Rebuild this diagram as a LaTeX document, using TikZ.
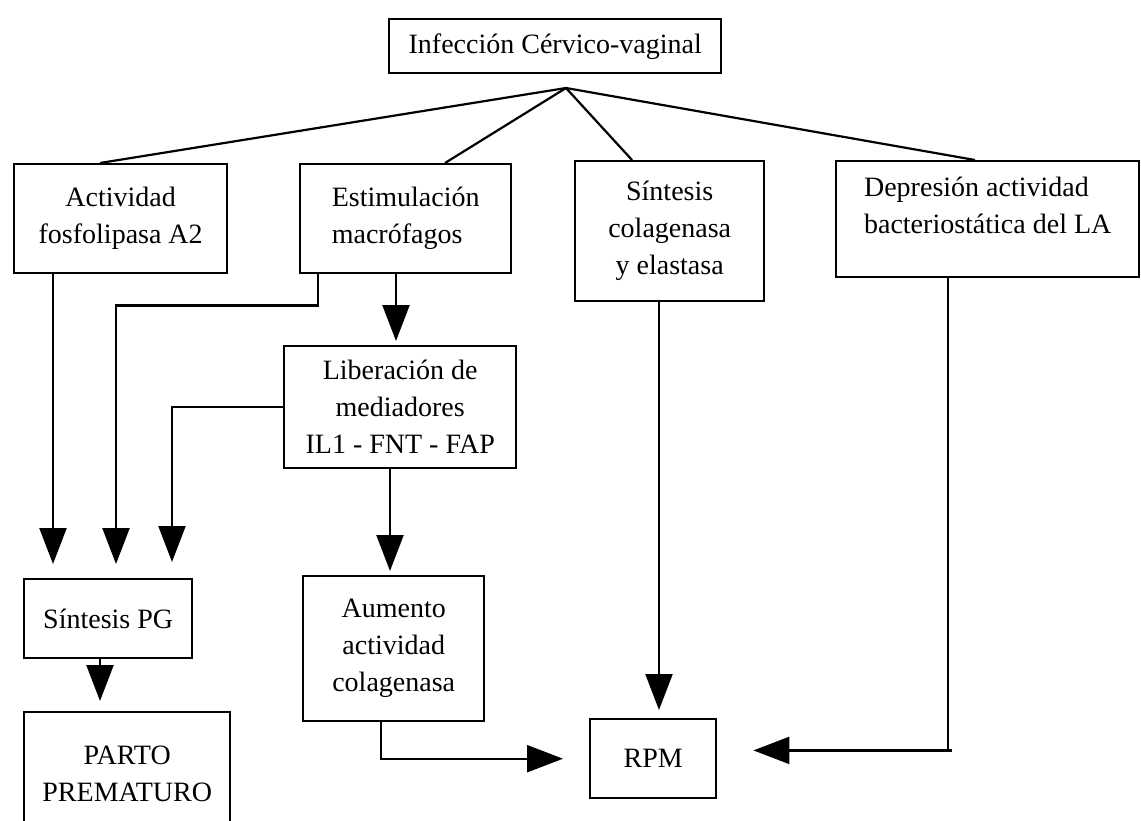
\documentclass[tikz,border=0pt]{standalone}
\usepackage{fontspec}
\setmainfont{Liberation Serif}
\usetikzlibrary{arrows.meta}
\begin{document}
\begin{tikzpicture}[x=1pt,y=-1pt,
  box/.style={draw,line width=2.4pt,anchor=north west,inner sep=0pt,align=center,
    font=\fontsize{28}{37}\selectfont},
  conn/.style={line width=2.2pt},
  arr/.style={line width=2.2pt,-{Triangle[width=27pt,length=36pt]}},
]
\useasboundingbox (0,0) rectangle (1141,820);
\clip (0,0) rectangle (1141,820);
\node[box,minimum width=332pt,minimum height=54pt] (inf) at (388,18) {Infección Cérvico-vaginal};
\node[box,minimum width=213pt,minimum height=109pt] (act) at (13,163) {Actividad\\fosfolipasa A2};
\node[box,minimum width=211pt,minimum height=109pt,align=left] (est) at (299,163) {Estimulación\\macrófagos};
\node[box,minimum width=189pt,minimum height=140pt] (sco) at (574,160) {Síntesis\\colagenasa\\y elastasa};
\node[box,minimum width=303pt,minimum height=116pt,align=left] (dep) at (835,160) {Depresión actividad\\bacteriostática del LA\\[-10pt]\mbox{}};
\node[box,minimum width=232pt,minimum height=122pt] (lib) at (283,345) {Liberación de\\mediadores\\IL1 - FNT - FAP};
\node[box,minimum width=168pt,minimum height=79pt] (psg) at (23,578) {Síntesis PG};
\node[box,minimum width=181pt,minimum height=145pt] (aum) at (302,575) {Aumento\\actividad\\colagenasa};
\node[box,minimum width=206pt,minimum height=124pt] (par) at (23,711) {PARTO\\PREMATURO};
\node[box,minimum width=126pt,minimum height=79pt] (rpm) at (589,718) {RPM};
% fan from the apex
\coordinate (apex) at (566,88);
\draw[conn] (apex) -- ([xshift=87pt]act.north west);
\draw[conn] (apex) -- ([xshift=146pt]est.north west);
\draw[conn] (apex) -- ([xshift=58pt]sco.north west);
\draw[conn] (apex) -- ([xshift=140pt]dep.north west);
% arrows
\draw[arr,shorten >=14pt] ([xshift=40pt]act.south west) -- ([xshift=30pt]psg.north west);
\draw[arr,shorten >=14pt] ([xshift=19pt]est.south west) |- ++(0,31) -| ([xshift=93pt]psg.north west);
\draw[arr,shorten >=4pt] ([xshift=97pt]est.south west) -- ([xshift=113pt]lib.north west);
\draw[arr,shorten >=16pt] (lib.west) -| ([xshift=149pt]psg.north west);
\draw[arr,shorten >=4pt] ([xshift=107pt]lib.south west) -- ([xshift=88pt]aum.north west);
\draw[arr,shorten >=10pt] ([xshift=77pt]psg.south west) -- ([xshift=77pt]par.north west);
\draw[arr,shorten >=26pt] ([xshift=79pt]aum.south west) |- (rpm.west);
\draw[arr,shorten >=8pt] ([xshift=85pt]sco.south west) -- ([xshift=70pt]rpm.north west);
\coordinate (dcorner) at ([xshift=113pt,yshift=-472pt]dep.south west);
\draw[conn] ([xshift=113pt]dep.south west) -- (dcorner);
\draw[arr,shorten >=36pt] ([xshift=4pt]dcorner) -- (dcorner -| rpm.east);
\end{tikzpicture}
\end{document}
